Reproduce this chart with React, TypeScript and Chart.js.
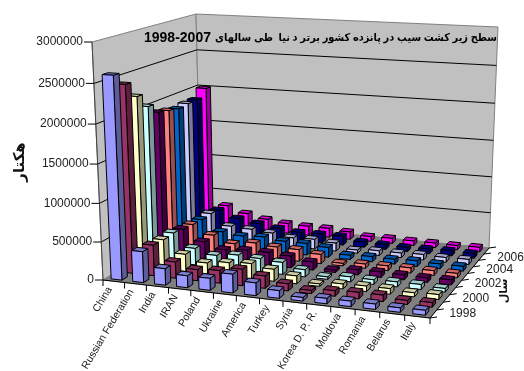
import React, { useEffect, useRef } from "react";
import { Chart, BarController, registerables } from "chart.js";

const countries = ["China", "Russian Federation", "India", "IRAN", "Poland", "Ukraine", "America", "Turkey", "Syria", "Korea D. P. R.", "Moldova", "Romania", "Belarus", "Italy"];
const years = ["1998", "1999", "2000", "2001", "2002", "2003", "2004", "2005", "2006", "2007"];
const colors = ["#9999FF", "#993366", "#FFFFCC", "#CCFFFF", "#660066", "#FF8080", "#0066CC", "#CCCCFF", "#000080", "#FF00FF"];

const area1998 = [2600000, 405000, 215000, 155000, 155000, 241000, 163000, 98000, 45000, 68000, 68000, 67000, 55000, 60000];
const area1999 = [2440000, 405000, 215000, 145000, 165000, 215000, 160000, 92000, 40000, 70000, 83000, 83000, 50000, 58000];
const area2000 = [2240000, 395000, 230000, 145000, 180000, 200000, 158000, 103000, 31000, 64000, 71000, 71000, 52000, 63000];
const area2001 = [2060000, 405000, 225000, 160000, 195000, 180000, 160000, 95000, 32000, 65000, 60000, 65000, 65000, 47000];
const area2002 = [1930000, 375000, 230000, 150000, 175000, 175000, 156000, 108000, 32000, 66000, 72000, 65000, 60000, 65000];
const area2003 = [1900000, 360000, 240000, 150000, 190000, 165000, 160000, 125000, 34000, 57000, 64000, 69000, 64000, 60000];
const area2004 = [1870000, 350000, 205000, 175000, 190000, 160000, 160000, 135000, 58000, 70000, 65000, 75000, 65000, 65000];
const area2005 = [1890000, 360000, 205000, 190000, 165000, 125000, 135000, 112000, 45000, 65000, 65000, 75000, 65000, 70000];
const area2006 = [1890000, 330000, 235000, 190000, 150000, 120000, 125000, 125000, 72000, 65000, 58000, 65000, 72000, 65000];
const area2007 = [2000000, 320000, 232000, 175000, 142000, 130000, 128000, 105000, 68000, 72000, 65000, 65000, 60000, 65000];
const areaByYear = [area1998, area1999, area2000, area2001, area2002, area2003, area2004, area2005, area2006, area2007];

const titleWords = "سطح زیر کشت سیب در پانزده کشور برتر د نیا  طی سالهای";
const titleRange = "1998-2007";
const valueAxisTitle = "هکتار";
const yearAxisTitle = "سال";

type Pt = { x: number; y: number };

// Unit square to quadrilateral, used for the floor and for the ceiling of the box.
function quad(p00: Pt, p10: Pt, p11: Pt, p01: Pt) {
  const dx1 = p10.x - p11.x, dx2 = p01.x - p11.x, sx = p00.x - p10.x + p11.x - p01.x;
  const dy1 = p10.y - p11.y, dy2 = p01.y - p11.y, sy = p00.y - p10.y + p11.y - p01.y;
  const den = dx1 * dy2 - dx2 * dy1;
  const g = (sx * dy2 - dx2 * sy) / den, h = (dx1 * sy - sx * dy1) / den;
  const a = p10.x - p00.x + g * p10.x, b = p01.x - p00.x + h * p01.x;
  const d = p10.y - p00.y + g * p10.y, e = p01.y - p00.y + h * p01.y;
  return (u: number, v: number): Pt => {
    const w = g * u + h * v + 1;
    return { x: (a * u + b * v + p00.x) / w, y: (d * u + e * v + p00.y) / w };
  };
}

const floor = quad({ x: 103, y: 280 }, { x: 430, y: 318 }, { x: 489, y: 248 }, { x: 201, y: 220 });
const ceiling = quad({ x: 92, y: 42 }, { x: 437.5, y: 60 }, { x: 498, y: 27 }, { x: 196, y: 14 });
const riseFactor = 0.95;

// u runs along the countries, v into the depth, h from the floor to the ceiling.
function project(u: number, v: number, h: number): Pt {
  const lo = floor(u, v), hi = ceiling(u, v);
  const t = (riseFactor * h) / (1 + (riseFactor - 1) * h);
  return { x: lo.x + (hi.x - lo.x) * t, y: lo.y + (hi.y - lo.y) * t };
}

function shade(hex: string, f: number) {
  const n = parseInt(hex.slice(1), 16);
  const c = [(n >> 16) & 255, (n >> 8) & 255, n & 255].map((v) => Math.round(v * f));
  return `rgb(${c[0]},${c[1]},${c[2]})`;
}

function face(ctx: CanvasRenderingContext2D, pts: Pt[], fill: string | null, stroke: string | null, lw = 1) {
  ctx.beginPath();
  pts.forEach((p, i) => (i ? ctx.lineTo(p.x, p.y) : ctx.moveTo(p.x, p.y)));
  ctx.closePath();
  if (fill) { ctx.fillStyle = fill; ctx.fill(); }
  if (stroke) { ctx.strokeStyle = stroke; ctx.lineWidth = lw; ctx.stroke(); }
}

function line(ctx: CanvasRenderingContext2D, a: Pt, b: Pt, color: string, lw = 1) {
  ctx.beginPath();
  ctx.moveTo(a.x, a.y);
  ctx.lineTo(b.x, b.y);
  ctx.strokeStyle = color;
  ctx.lineWidth = lw;
  ctx.stroke();
}

// Bars drawn as boxes, placed by the category, depth and value scales.
class Box3DController extends BarController {
  static id = "box3d";
  draw() {
    const chart = this.chart as any;
    const ctx = chart.ctx as CanvasRenderingContext2D;
    const { x: xs, y: ys, z: zs } = chart.scales;
    const di = this.index;
    const color = colors[di];
    const du = 0.25 / countries.length, dv = 0.25 / years.length;
    const vc = zs.getDecimalForPixel(zs.getPixelForValue(di));
    const meta = this.getMeta();
    ctx.save();
    ctx.lineJoin = "round";
    for (let i = 0; i < meta.data.length; i++) {
      const parsed = (this as any).getParsed(i);
      const uc = xs.getDecimalForPixel(xs.getPixelForValue(i));
      const h = ys.getDecimalForPixel(ys.getPixelForValue(parsed.y));
      const u0 = uc - du, u1 = uc + du, v0 = vc - dv, v1 = vc + dv;
      const edge = "#000";
      face(ctx, [project(u1, v0, 0), project(u1, v1, 0), project(u1, v1, h), project(u1, v0, h)], shade(color, 0.6), edge);
      face(ctx, [project(u0, v0, h), project(u1, v0, h), project(u1, v1, h), project(u0, v1, h)], shade(color, 0.8), edge);
      face(ctx, [project(u0, v0, 0), project(u1, v0, 0), project(u1, v0, h), project(u0, v0, h)], color, edge);
    }
    ctx.restore();
  }
}

const FONT = '"Liberation Sans", "DejaVu Sans", sans-serif';

// Walls, floor and gridlines sit behind the boxes; the title is written on the back wall.
const boxWalls = {
  id: "boxWalls",
  beforeDatasetsDraw(chart: any) {
    const ctx = chart.ctx as CanvasRenderingContext2D;
    const ys = chart.scales.y;
    ctx.save();
    face(ctx, [project(0, 0, 0), project(0, 0, 1), project(0, 1, 1), project(0, 1, 0)], "#C0C0C0", "#808080");
    face(ctx, [project(0, 1, 0), project(0, 1, 1), project(1, 1, 1), project(1, 1, 0)], "#C0C0C0", "#808080");
    face(ctx, [project(0, 0, 0), project(1, 0, 0), project(1, 1, 0), project(0, 1, 0)], "#808080", "#808080");
    for (const t of ys.ticks) {
      if (t.value === ys.min || t.value === ys.max) continue;
      const h = ys.getDecimalForPixel(ys.getPixelForValue(t.value));
      line(ctx, project(0, 0, h), project(0, 1, h), "#000");
      line(ctx, project(0, 1, h), project(1, 1, h), "#000");
    }
    ctx.fillStyle = "#000";
    ctx.textBaseline = "middle";
    ctx.direction = "rtl";
    ctx.textAlign = "right";
    ctx.font = `bold 11px ${FONT}`;
    ctx.fillText(titleWords, 497, 38, 282);
    ctx.direction = "ltr";
    ctx.textAlign = "left";
    ctx.font = `bold 14px ${FONT}`;
    ctx.fillText(titleRange, 144, 38);
    ctx.restore();
  },
};

// Axes are skewed with the box, so their ticks and labels are placed from the same scales.
const boxAxes = {
  id: "boxAxes",
  afterDatasetsDraw(chart: any) {
    const ctx = chart.ctx as CanvasRenderingContext2D;
    const { x: xs, y: ys, z: zs } = chart.scales;
    ctx.save();
    ctx.direction = "ltr";
    const ink = "#222";
    ctx.fillStyle = ink;

    line(ctx, project(0, 0, 0), project(0, 0, 1), "#444");
    line(ctx, project(0, 0, 0), project(1, 0, 0), "#000");
    line(ctx, project(1, 0, 0), project(1, 1, 0), "#000");

    ctx.font = `12px ${FONT}`;
    ctx.textAlign = "right";
    ctx.textBaseline = "middle";
    for (const t of ys.ticks) {
      const p = project(0, 0, ys.getDecimalForPixel(ys.getPixelForValue(t.value)));
      line(ctx, p, { x: p.x - 8, y: p.y }, "#000");
      ctx.fillStyle = ink;
      ctx.fillText(String(t.value), p.x - 9, p.y);
    }

    const n = countries.length;
    for (let i = 0; i <= n; i++) {
      const p = project(i / n, 0, 0);
      line(ctx, p, { x: p.x, y: p.y + 6 }, "#000");
    }
    ctx.font = `10.5px ${FONT}`;
    countries.forEach((_, i) => {
      const p = project(xs.getDecimalForPixel(xs.getPixelForValue(i)), 0, 0);
      ctx.save();
      ctx.translate(p.x - 4, p.y + 6.5);
      ctx.rotate((-59 * Math.PI) / 180);
      ctx.fillStyle = ink;
      ctx.fillText(xs.getLabelForValue(i), 0, 0);
      ctx.restore();
    });

    const m = years.length;
    for (let i = 0; i <= m; i++) {
      const p = project(1, i / m, 0);
      line(ctx, p, { x: p.x + 7, y: p.y - 1 }, "#000");
    }
    ctx.font = `12px ${FONT}`;
    ctx.textAlign = "left";
    years.forEach((_, i) => {
      if (i % 2 || i === m - 1) return;
      const p = project(1, zs.getDecimalForPixel(zs.getPixelForValue(i)), 0);
      ctx.fillStyle = ink;
      ctx.fillText(zs.getLabelForValue(i), p.x + 16, p.y);
    });

    ctx.textAlign = "center";
    ctx.fillStyle = "#111";
    ctx.direction = "rtl";
    ctx.save();
    ctx.font = `bold 15px ${FONT}`;
    ctx.translate(20, 162);
    ctx.rotate(-Math.PI / 2);
    ctx.fillText(valueAxisTitle, 0, 0);
    ctx.restore();
    ctx.save();
    ctx.font = `bold 11px ${FONT}`;
    ctx.translate(504, 291);
    ctx.rotate(-Math.PI / 2);
    ctx.fillText(yearAxisTitle, 0, 0);
    ctx.restore();
    ctx.restore();
  },
};

Chart.register(...registerables, Box3DController);

export default function App() {
  const ref = useRef<HTMLCanvasElement>(null);
  useEffect(() => {
    document.body.style.margin = "0";
    const chart = new Chart(ref.current!, {
      type: "box3d" as any,
      data: {
        labels: countries,
        datasets: years.map((year, i) => ({ label: year, data: areaByYear[i], backgroundColor: colors[i] })),
      },
      options: {
        responsive: false,
        animation: false,
        scales: {
          x: { type: "category", offset: true, display: false },
          y: { type: "linear", min: 0, max: 3000000, ticks: { stepSize: 500000 }, display: false },
          z: { type: "category", axis: "x", position: "bottom", labels: years, offset: true, display: false },
        },
        plugins: {
          legend: { display: false },
          tooltip: { enabled: false },
        },
      } as any,
      plugins: [boxWalls, boxAxes],
    });
    return () => chart.destroy();
  }, []);
  return <canvas ref={ref} width={524} height={371} style={{ display: "block" }} />;
}
